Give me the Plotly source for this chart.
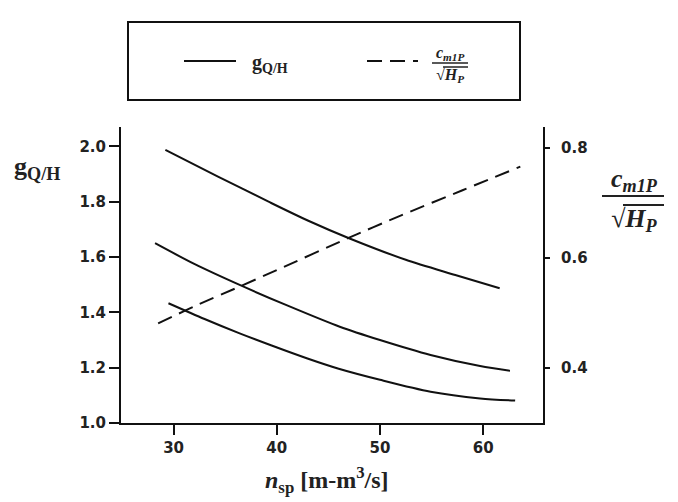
import plotly.graph_objects as go

# ---- data ----
nsp_top = [29.2, 34.3, 39.2, 43.0, 47.0, 52.5, 57.3, 61.6]
g_top = [1.987, 1.891, 1.800, 1.732, 1.668, 1.590, 1.535, 1.487]

nsp_mid = [28.2, 32.0, 36.4, 41.0, 46.1, 50.0, 54.9, 59.7, 62.6]
g_mid = [1.650, 1.575, 1.499, 1.425, 1.348, 1.300, 1.246, 1.206, 1.189]

nsp_bot = [29.5, 33.0, 36.4, 39.5, 42.9, 46.0, 50.0, 54.9, 59.7, 63.1]
g_bot = [1.433, 1.376, 1.324, 1.280, 1.234, 1.196, 1.156, 1.113, 1.089, 1.081]

nsp_dash = [28.5, 32.0, 36.4, 40.0, 46.9, 52.0, 58.0, 63.6]
cm_dash = [0.481, 0.512, 0.548, 0.578, 0.636, 0.677, 0.723, 0.766]

x_ticks = [30, 40, 50, 60]
yl_ticks = [1.0, 1.2, 1.4, 1.6, 1.8, 2.0]
yr_ticks = [0.4, 0.6, 0.8]

W, H = 678, 502
L, R, T, B = 121, 543, 127, 423


def px2x(px):
    return (px - L) / (R - L)


def py2y(py):
    return (B - py) / (B - T)


fig = go.Figure()
line_col = "#111111"
for xs, ys in [(nsp_top, g_top), (nsp_mid, g_mid), (nsp_bot, g_bot)]:
    fig.add_trace(go.Scatter(x=xs, y=ys, mode="lines",
                             line=dict(color=line_col, width=2, shape="spline", smoothing=0.8),
                             showlegend=False, hoverinfo="skip"))
fig.add_trace(go.Scatter(x=nsp_dash, y=cm_dash, mode="lines", yaxis="y2",
                         line=dict(color=line_col, width=2, dash="15px,8px", shape="spline", smoothing=0.8),
                         showlegend=False, hoverinfo="skip"))

tickfont = dict(family="DejaVu Sans", size=15, weight="bold", color="#222222")
serif = "Liberation Serif"

shapes = []
annotations = []

# legend box
shapes.append(dict(type="rect", xref="paper", yref="paper", x0=px2x(128), x1=px2x(520), y0=py2y(100), y1=py2y(22),
                   line=dict(color="#111", width=2)))
shapes.append(dict(type="line", xref="paper", yref="paper", x0=px2x(184), x1=px2x(236), y0=py2y(61), y1=py2y(61),
                   line=dict(color="#111", width=2)))
shapes.append(dict(type="line", xref="paper", yref="paper", x0=px2x(367), x1=px2x(418), y0=py2y(61), y1=py2y(61),
                   line=dict(color="#111", width=2, dash="15px,8px")))
annotations.append(dict(xref="paper", yref="paper", x=px2x(250), y=py2y(63), xanchor="left", yanchor="middle",
                        text="<b>g<sub>Q/H</sub></b>", showarrow=False,
                        font=dict(family=serif, size=20, color="#222")))


def fraction(cx, ynum, ybar, yden, bar0, bar1, ov0, ov1, yov, size, bw):
    annotations.append(dict(xref="paper", yref="paper", x=px2x(cx), y=py2y(ynum), xanchor="center",
                            yanchor="middle", text="<b><i>c<sub>m1P</sub></i></b>", showarrow=False,
                            font=dict(family=serif, size=size, color="#222")))
    annotations.append(dict(xref="paper", yref="paper", x=px2x(cx), y=py2y(yden), xanchor="center",
                            yanchor="middle", text="<b><i>√H<sub>P</sub></i></b>", showarrow=False,
                            font=dict(family=serif, size=size, color="#222")))
    shapes.append(dict(type="line", xref="paper", yref="paper", x0=px2x(bar0), x1=px2x(bar1), y0=py2y(ybar),
                       y1=py2y(ybar), line=dict(color="#222", width=bw)))
    shapes.append(dict(type="line", xref="paper", yref="paper", x0=px2x(ov0), x1=px2x(ov1), y0=py2y(yov),
                       y1=py2y(yov), line=dict(color="#222", width=bw)))


fraction(450, 53, 63, 76, 432, 468, 443, 468, 67, 16, 1.5)
fraction(634, 180, 196, 220, 602, 664, 623, 664, 205, 26, 2)

# left axis title
annotations.append(dict(xref="paper", yref="paper", x=px2x(37), y=py2y(168), xanchor="center", yanchor="middle",
                        text="<b>g<sub>Q/H</sub></b>", showarrow=False,
                        font=dict(family=serif, size=26, color="#222")))
# x axis title
annotations.append(dict(xref="paper", yref="paper", x=px2x(327), y=py2y(480), xanchor="center", yanchor="middle",
                        text="<b><i>n</i></b><b><sub>sp</sub> [m-m<sup>3</sup>/s]</b>", showarrow=False,
                        font=dict(family=serif, size=24, color="#222")))

fig.update_layout(
    width=W, height=H,
    margin=dict(l=L, r=W - R, t=T, b=H - B, pad=0),
    paper_bgcolor="white", plot_bgcolor="white",
    showlegend=False,
    xaxis=dict(range=[24.9, 65.8], tickvals=x_ticks, ticks="outside", ticklen=10, tickwidth=2,
               tickcolor="#111", showline=True, linecolor="#111", linewidth=2, showgrid=False,
               zeroline=False, tickfont=tickfont),
    yaxis=dict(range=[1.0, 2.07], tickvals=yl_ticks, ticktext=["%.1f" % v for v in yl_ticks],
               ticks="outside", ticklen=10, tickwidth=2, tickcolor="#111", showline=True,
               linecolor="#111", linewidth=2, showgrid=False, zeroline=False, tickfont=tickfont),
    yaxis2=dict(range=[0.3, 0.838], tickvals=yr_ticks, ticktext=["%.1f" % v for v in yr_ticks],
                overlaying="y", side="right", ticks="outside", ticklen=5, tickwidth=2, tickcolor="#111",
                showline=True, linecolor="#111", linewidth=2, showgrid=False, zeroline=False,
                tickfont=tickfont, ticklabelstandoff=8),
    shapes=shapes,
    annotations=annotations,
)

fig.write_html("out.html")
